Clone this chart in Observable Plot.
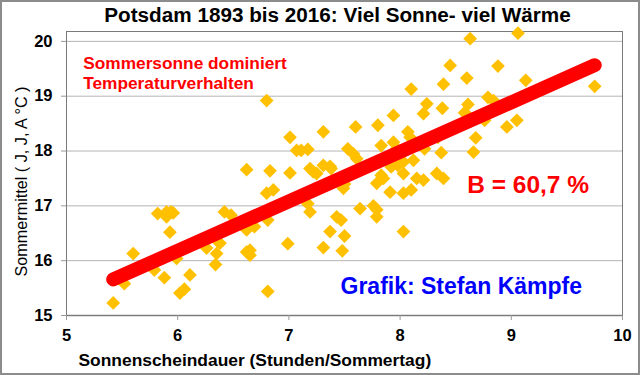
<!DOCTYPE html>
<html><head><meta charset="utf-8">
<script src="https://cdn.jsdelivr.net/npm/d3@7"></script>
<script src="https://cdn.jsdelivr.net/npm/@observablehq/plot@0.6"></script>
<style>
body{margin:0;background:#fff}
#chart svg{display:block; outline:2px solid #8c8c8c; outline-offset:-2px}
</style></head><body><div id="chart"></div>
<script>
const sunshine = [5.42,5.52,5.60,5.82,5.90,5.94,5.90,5.96,5.93,5.79,5.88,5.99,6.11,6.02,6.06,6.42,6.48,6.26,6.35,6.36,6.38,6.34,6.62,6.62,6.62,6.65,6.65,6.69,6.80,6.86,6.81,6.83,7.01,6.81,6.99,7.19,7.17,7.37,7.43,7.47,7.50,7.31,7.48,7.49,7.50,7.64,7.76,7.79,7.79,8.03,7.79,7.91,8.03,8.10,8.15,8.21,8.03,7.83,7.25,6.80,7.01,7.07,7.11,7.17,7.31,7.19,7.22,7.31,7.37,7.38,7.53,7.58,7.61,7.60,7.80,7.94,7.83,7.94,7.97,8.07,8.09,7.85,7.92,7.98,8.03,8.12,8.10,8.24,8.21,8.34,8.33,8.37,8.39,8.38,8.22,8.63,9.06,8.45,8.88,8.60,9.13,9.75,8.61,8.58,8.60,8.79,8.84,8.76,8.96,9.05,8.68,8.66,8.39];
const temperature = [15.23,15.58,16.13,16.86,16.89,16.89,16.80,16.87,16.52,15.83,15.69,16.04,15.74,15.41,15.48,16.89,16.83,16.23,16.13,16.35,16.32,15.93,17.66,16.56,16.16,16.19,16.10,16.62,17.23,17.29,15.44,17.64,17.60,16.74,16.31,16.89,17.04,16.53,16.80,16.74,16.45,16.24,16.18,17.32,17.40,16.95,17.00,16.93,16.80,16.53,17.41,17.25,17.23,17.29,17.50,17.47,17.59,17.56,17.59,18.92,18.25,18.01,18.01,18.03,18.35,17.68,17.62,17.74,17.72,17.68,18.04,17.95,17.86,18.44,18.47,18.65,18.10,18.16,18.04,18.35,18.25,17.50,17.71,17.74,17.80,17.83,19.13,18.86,18.68,18.25,17.59,17.97,19.22,18.78,18.04,20.05,20.15,19.56,19.55,19.33,19.29,19.18,18.85,18.70,18.66,18.98,18.92,18.56,18.44,18.56,18.24,17.98,17.50];
const xTicks = [5,6,7,8,9,10];
const yTicks = [15,16,17,18,19,20];
const gridTicks = [16,17,18,19,20];
const titleText = "Potsdam 1893 bis 2016: Viel Sonne- viel Wärme";
const xLabel = "Sonnenscheindauer (Stunden/Sommertag)";
const yLabel = "Sommermittel ( J, J, A °C )";
const noteText = "Sommersonne dominiert\nTemperaturverhalten";
const rText = "B = 60,7 %";
const creditText = "Grafik: Stefan Kämpfe";

const data = sunshine.map((s, i) => ({sun: s, temp: temperature[i]}));
const font = "'Liberation Sans', Arial, sans-serif";

const chart = Plot.plot({
  width: 640, height: 375,
  marginLeft: 66, marginRight: 18, marginTop: 31, marginBottom: 60,
  style: {fontFamily: font, background: "#fff", overflow: "visible"},
  x: {domain: [5, 10]},
  y: {domain: [15, 20.18]},
  marks: [
    Plot.gridY(gridTicks, {stroke: "#b4b4b4", strokeOpacity: 1}),
    Plot.ruleY([15], {stroke: "#c4c4c4", strokeWidth: 2}),
    Plot.frame({stroke: "#7a7a7a"}),
    Plot.axisX(xTicks, {tickSize: 5, tickPadding: 9, fontSize: 16.5, fontWeight: "bold", stroke: "#999", fill: "#000", tickFormat: d => String(d), label: null}),
    Plot.axisY(yTicks, {tickSize: 5, tickPadding: 9, fontSize: 16.5, fontWeight: "bold", stroke: "#999", fill: "#000", tickFormat: d => String(d), label: null}),
    Plot.dot(data, {x: "sun", y: "temp", symbol: "diamond2", r: 6.2, fill: "#FFC000"}),
    Plot.linearRegressionY(data, {x: "sun", y: "temp", stroke: "#FF0000", strokeWidth: 14, strokeLinecap: "round", ci: 0}),
    Plot.text([titleText], {frameAnchor: "top", lineAnchor: "top", dx: -7, dy: -24, fontSize: 20.7, fontWeight: "bold", fill: "#000"}),
    Plot.text([yLabel], {frameAnchor: "left", textAnchor: "middle", rotate: -90, dx: -45, dy: 8, fontSize: 16.2, fill: "#000"}),
    Plot.text([xLabel], {frameAnchor: "bottom-left", textAnchor: "start", lineAnchor: "top", dx: 12, dy: 38, fontSize: 17.4, fontWeight: "bold", fill: "#000"}),
    Plot.text([noteText], {frameAnchor: "top-left", textAnchor: "start", lineAnchor: "top", dx: 16.7, dy: 23, lineHeight: 1.17, fontSize: 17.3, fontWeight: "bold", fill: "#FF0000"}),
    Plot.text([rText], {frameAnchor: "top-left", textAnchor: "start", lineAnchor: "top", dx: 400.7, dy: 144, fontSize: 24.5, fontWeight: "bold", fill: "#FF0000"}),
    Plot.text([creditText], {frameAnchor: "top-left", textAnchor: "start", lineAnchor: "top", dx: 274, dy: 246, fontSize: 23, fontWeight: "bold", fill: "#0000FF"})
  ]
});
document.getElementById("chart").append(chart);
</script></body></html>
